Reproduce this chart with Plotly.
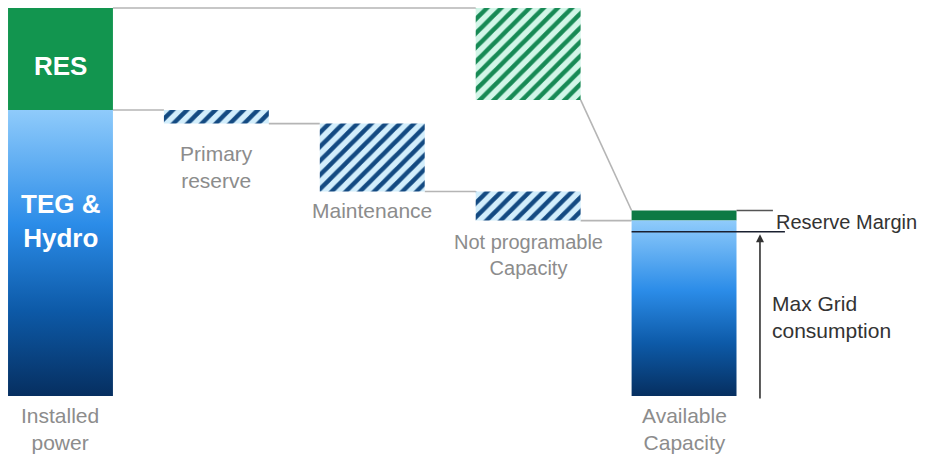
import plotly.graph_objects as go

# ---------------- data ----------------
categories = ["Installed<br>power", "Primary<br>reserve", "Maintenance",
              "Not programable<br>Capacity", "Available<br>Capacity"]
res_installed = 26.3        # RES share of installed power
teg_installed = 73.7        # TEG & Hydro share of installed power
primary_reserve = 3.5
maintenance = 17.5
not_programable = 7.5
res_not_available = 23.7
max_grid_consumption = 42.3

# ---------------- derived levels ----------------
total = res_installed + teg_installed
lvl_after_primary = teg_installed - primary_reserve
lvl_after_maint = lvl_after_primary - maintenance
lvl_after_notprog = lvl_after_maint - not_programable      # available TEG
res_available = res_installed - res_not_available
available_total = lvl_after_notprog + res_available

W = 0.673
H = W / 2
xs = list(range(len(categories)))

FONT = "Liberation Sans, Arial, sans-serif"
GRAY_LINE = "#b5b5b5"
LABEL_GRAY = "#8c8c8c"
BLUE_SCALE = [[0, "#062f60"], [0.3, "#0d5aa8"], [0.6, "#2b8ce8"], [1, "#8fcbfb"]]

fig = go.Figure()


def grad_bar(xc, top):
    fig.add_trace(go.Scatter(
        x=[xc - H, xc + H, xc + H, xc - H, xc - H],
        y=[0, 0, top, top, 0],
        mode="lines", line=dict(width=0), fill="toself",
        fillgradient=dict(type="vertical", colorscale=BLUE_SCALE, start=0, stop=top),
        hoverinfo="skip", showlegend=False))


# gradient blue bars (TEG & Hydro)
grad_bar(xs[0], teg_installed)
grad_bar(xs[4], lvl_after_notprog)

# solid green RES bars
fig.add_trace(go.Bar(x=[xs[0]], y=[res_installed], base=[teg_installed], width=W,
                     marker=dict(color="#12954f", line=dict(width=0)), showlegend=False))
fig.add_trace(go.Bar(x=[xs[4]], y=[res_available], base=[lvl_after_notprog], width=W,
                     marker=dict(color="#0c7a44", line=dict(width=0)), showlegend=False))

# hatched blue deductions
blue_pat = dict(shape="/", fgcolor="#134a82", bgcolor="#d2eefc", size=10, solidity=0.45,
                fgopacity=1, fillmode="replace")
fig.add_trace(go.Bar(x=[xs[1], xs[2], xs[3]],
                     y=[primary_reserve, maintenance, not_programable],
                     base=[lvl_after_primary, lvl_after_maint, lvl_after_notprog],
                     width=W, marker=dict(color="#d2eefc", pattern=blue_pat, line=dict(width=0)),
                     showlegend=False))
# hatched green deduction (RES not available)
green_pat = dict(shape="/", fgcolor="#178a55", bgcolor="#d2f6e8", size=10, solidity=0.45,
                 fgopacity=1, fillmode="replace")
fig.add_trace(go.Bar(x=[xs[3]], y=[res_not_available], base=[total - res_not_available],
                     width=W, marker=dict(color="#d2f6e8", pattern=green_pat, line=dict(width=0)),
                     showlegend=False))

shapes = []


def seg(x0, y0, x1, y1, color=GRAY_LINE, width=1.6):
    shapes.append(dict(type="line", xref="x", yref="y", x0=x0, y0=y0, x1=x1, y1=y1,
                       line=dict(color=color, width=width), layer="below"))


# connectors
seg(xs[0] + H, total, xs[3] - H, total)
seg(xs[0] + H, teg_installed, xs[1] - H, teg_installed)
seg(xs[1] + H, lvl_after_primary, xs[2] - H, lvl_after_primary)
seg(xs[2] + H, lvl_after_maint, xs[3] - H, lvl_after_maint)
seg(xs[3] + H, lvl_after_notprog, xs[4] - H, lvl_after_notprog)
seg(xs[3] + H, total - res_not_available, xs[4] - H, available_total)

# reserve margin lines
shapes.append(dict(type="line", xref="x", yref="y", x0=xs[4] + H, y0=available_total,
                   x1=4.57, y1=available_total, line=dict(color="#555555", width=1.5)))
shapes.append(dict(type="line", xref="x", yref="y", x0=xs[4] - H, y0=max_grid_consumption,
                   x1=4.647, y1=max_grid_consumption, line=dict(color="#1a2030", width=1.5)))

annotations = []


def label(x, y, text, color=LABEL_GRAY, size=21, bold=False, xanchor="center",
          yanchor="middle", align="center"):
    annotations.append(dict(x=x, y=y, xref="x", yref="y", text=f"<b>{text}</b>" if bold else text,
                            showarrow=False, xanchor=xanchor, yanchor=yanchor, align=align,
                            font=dict(family=FONT, size=size, color=color)))


label(xs[0], -8.6, categories[0])
label(xs[1], 59.0, categories[1])
label(xs[2], 47.7, categories[2])
label(xs[3], 36.4, categories[3], size=20)
label(xs[4], -8.6, categories[4])
label(xs[0], 85.0, "RES", color="white", size=26, bold=True)
label(xs[0], 45.0, "TEG &amp;<br>Hydro", color="white", size=26, bold=True)
label(4.578, 44.8, "Reserve Margin", color="#333333", size=20, xanchor="left")
label(4.55, 20.4, "Max Grid<br>consumption", color="#333333", size=21, xanchor="left",
      align="left")

# arrow for max grid consumption
annotations.append(dict(x=4.487, y=max_grid_consumption - 0.6, ax=4.487, ay=-1.0,
                        xref="x", yref="y", axref="x", ayref="y", text="", showarrow=True,
                        arrowhead=2, arrowsize=1, arrowwidth=1.6, arrowcolor="#333333"))

fig.update_layout(
    width=926, height=458, margin=dict(l=0, r=0, t=0, b=0),
    paper_bgcolor="white", plot_bgcolor="white",
    xaxis=dict(range=[-0.388, 5.552], visible=False),
    yaxis=dict(range=[-15.98, 102.06], visible=False),
    barmode="overlay", shapes=shapes, annotations=annotations,
    font=dict(family=FONT),
)

fig.write_html("out.html")
